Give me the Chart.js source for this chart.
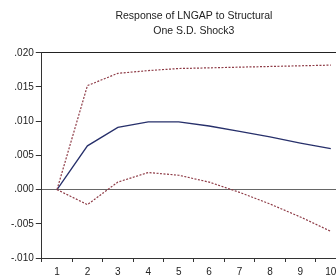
<!DOCTYPE html>
<html>
<head>
<meta charset="utf-8">
<script src="https://cdn.jsdelivr.net/npm/chart.js@4"></script>
<style>
  html, body { margin: 0; padding: 0; background: #fff; overflow: hidden; }
</style>
</head>
<body>
<canvas id="irfChart" width="346" height="277"></canvas>
<script>
// periodos e respostas
const periods = ['1', '2', '3', '4', '5', '6', '7', '8', '9', '10'];
const response = [0, 0.0064, 0.0091, 0.0099, 0.0099, 0.0093, 0.0085, 0.0077, 0.0068, 0.0060];
const upperBand = [0, 0.0152, 0.0170, 0.0174, 0.0177, 0.0178, 0.0179, 0.0180, 0.0181, 0.0182];
const lowerBand = [0, -0.0022, 0.0011, 0.0025, 0.0021, 0.0011, -0.0004, -0.0021, -0.0040, -0.0061];
const yTicks = [-0.010, -0.005, 0.000, 0.005, 0.010, 0.015, 0.020];
const titleLines = ['Response of LNGAP to Structural', 'One S.D. Shock3'];

function fmtTick(v) {
    let s = Math.abs(v).toFixed(3).replace(/^0/, '');
    return (v < -1e-9 ? '-' : '') + s;
}

Chart.defaults.font.family = '"Liberation Sans", Arial, sans-serif';
Chart.defaults.color = '#222';

// titulo centrado na area do grafico (o plugin padrao centra no canvas)
const centeredTitle = {
    id: 'centeredTitle',
    afterDraw(chart) {
        const ctx = chart.ctx;
        const area = chart.chartArea;
        const cx = (area.left + area.right) / 2;
        ctx.save();
        ctx.fillStyle = '#222';
        ctx.font = '10.5px "Liberation Sans", Arial, sans-serif';
        ctx.textAlign = 'center';
        ctx.textBaseline = 'middle';
        titleLines.forEach((t, i) => ctx.fillText(t, cx, 16.5 + i * 14.5));
        ctx.restore();
    }
};

new Chart(document.getElementById('irfChart'), {
    type: 'line',
    data: {
        labels: periods,
        datasets: [
            {
                data: upperBand,
                borderColor: '#8e3b46',
                borderWidth: 1.2,
                borderDash: [2, 1.5],
                pointRadius: 0,
                tension: 0
            },
            {
                data: response,
                borderColor: '#27306b',
                borderWidth: 1.3,
                pointRadius: 0,
                tension: 0
            },
            {
                data: lowerBand,
                borderColor: '#8e3b46',
                borderWidth: 1.2,
                borderDash: [2, 1.5],
                pointRadius: 0,
                tension: 0
            }
        ]
    },
    plugins: [centeredTitle],
    options: {
        responsive: false,
        animation: false,
        layout: { padding: { left: 9, right: 0, top: 0, bottom: -5 } },
        plugins: {
            legend: { display: false },
            tooltip: { enabled: false },
            title: {
                display: true,
                text: titleLines,
                font: { size: 12, weight: 'normal' },
                color: 'rgba(0,0,0,0)',
                padding: { top: 11, bottom: 13 }
            }
        },
        scales: {
            x: {
                offset: true,
                grid: {
                    offset: true,
                    drawOnChartArea: false,
                    tickLength: 4,
                    tickColor: '#333'
                },
                border: { color: '#333', width: 1 },
                ticks: { font: { size: 10, lineHeight: 1 }, padding: 5, maxRotation: 0 }
            },
            y: {
                min: -0.010,
                max: 0.020,
                afterBuildTicks: axis => { axis.ticks = yTicks.map(v => ({ value: v })); },
                grid: {
                    color: ctx => {
                        if (ctx.tick && Math.abs(ctx.tick.value) < 1e-9) return '#666';
                        if (ctx.tick && Math.abs(ctx.tick.value - 0.02) < 1e-9) return '#222';
                        return 'rgba(0,0,0,0)';
                    },
                    tickColor: '#333',
                    tickLength: 6,
                    lineWidth: 1
                },
                border: { color: '#333', width: 1 },
                ticks: {
                    font: { size: 10 },
                    padding: 2,
                    callback: v => fmtTick(v)
                }
            }
        }
    }
});
</script>
</body>
</html>
